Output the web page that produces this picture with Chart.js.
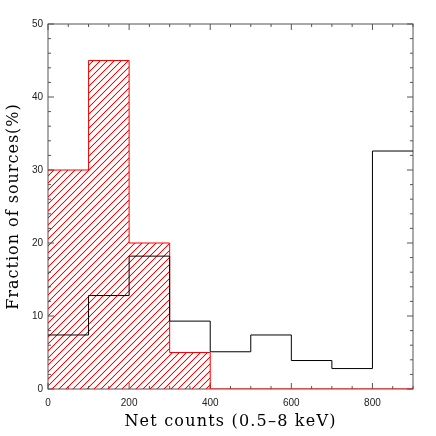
<!DOCTYPE html>
<html><head><meta charset="utf-8">
<script src="https://cdn.jsdelivr.net/npm/chart.js@4"></script>
<style>html,body{margin:0;padding:0;background:#fff}#wrap{width:436px;height:436px}</style>
</head><body>
<div id="wrap"><canvas id="c" width="436" height="436"></canvas></div>
<script>
// Histogram bin edges (net counts, 0.5-8 keV)
const binEdges = [0, 100, 200, 300, 400, 500, 600, 700, 800, 900];
// Black histogram: fraction of all sources (%)
const allSources = [7.4, 12.8, 18.2, 9.3, 5.1, 7.4, 3.9, 2.8, 32.6];
// Red hatched histogram: fraction of selected sources (%)
const selectedSources = [30, 45, 20, 5, 0, 0, 0, 0, 0];
// Tick labels
const xTickLabels = [0, 200, 400, 600, 800];
const yTickLabels = [0, 10, 20, 30, 40, 50];
const xMinorStep = 50, yMinorStep = 2;

function toSteps(values) {
  const pts = values.map((v, i) => ({x: binEdges[i], y: v}));
  pts.push({x: binEdges[binEdges.length - 1], y: values[values.length - 1]});
  return pts;
}

function hatch() {
  const s = 7;
  const c = document.createElement('canvas');
  c.width = s; c.height = s;
  const g = c.getContext('2d');
  const img = g.createImageData(s, s);
  for (let yy = 0; yy < s; yy++) {
    for (let xx = 0; xx < s; xx++) {
      const i = (yy * s + xx) * 4;
      const d = (xx + yy) % s;
      let a = 0;
      if (d === s - 1) a = 255;
      else if (d === 0 || d === s - 2) a = 40;
      img.data[i] = 255; img.data[i + 1] = 0; img.data[i + 2] = 0; img.data[i + 3] = a;
    }
  }
  g.putImageData(img, 0, 0);
  return g.createPattern(c, 'repeat');
}

function spacedTitle(scale, spacing) {
  if (scale.__spaced) return;
  const orig = scale.drawTitle;
  scale.drawTitle = function () {
    const ctx = this.ctx;
    ctx.save();
    ctx.letterSpacing = spacing;
    orig.apply(this, arguments);
    ctx.restore();
  };
  scale.__spaced = true;
}

const framePlugin = {
  id: 'frame',
  afterLayout(chart) {
    spacedTitle(chart.scales.x, '1.2px');
    spacedTitle(chart.scales.y, '1px');
  },
  beforeDatasetsDraw(chart) {
    const {ctx, chartArea: a, scales: {x, y}} = chart;
    ctx.save();
    ctx.strokeStyle = '#555';
    ctx.lineWidth = 1;
    ctx.strokeRect(a.left, a.top, a.right - a.left, a.bottom - a.top);
    ctx.beginPath();
    for (let v = x.min; v <= x.max; v += xMinorStep) {
      const px = x.getPixelForValue(v);
      const len = xTickLabels.includes(v) ? 6 : 3;
      ctx.moveTo(px, a.bottom); ctx.lineTo(px, a.bottom - len);
      ctx.moveTo(px, a.top); ctx.lineTo(px, a.top + len);
    }
    for (let v = y.min; v <= y.max; v += yMinorStep) {
      const py = y.getPixelForValue(v);
      const len = yTickLabels.includes(v) ? 6 : 3;
      ctx.moveTo(a.left, py); ctx.lineTo(a.left + len, py);
      ctx.moveTo(a.right, py); ctx.lineTo(a.right - len, py);
    }
    ctx.stroke();
    ctx.restore();
  }
};

const titleFont = {family: 'DejaVu Serif', size: 16};
const tickFont = {family: 'Liberation Sans', size: 10};

new Chart(document.getElementById('c'), {
  type: 'line',
  data: {
    datasets: [
      {
        label: 'All',
        data: toSteps(allSources),
        stepped: true,
        borderColor: '#000',
        borderWidth: 1,
        pointRadius: 0,
        fill: false
      },
      {
        label: 'Selected',
        data: toSteps(selectedSources),
        stepped: true,
        borderColor: '#ff0000',
        borderWidth: 1,
        pointRadius: 0,
        fill: 'origin',
        backgroundColor: hatch()
      }
    ]
  },
  options: {
    responsive: false,
    animation: false,
    devicePixelRatio: 1,
    layout: {padding: {top: 24, right: 23, left: 0, bottom: 0}},
    plugins: {legend: {display: false}, tooltip: {enabled: false}},
    scales: {
      x: {
        type: 'linear', min: 0, max: 900,
        afterBuildTicks: s => { s.ticks = xTickLabels.map(v => ({value: v})); },
        afterFit: s => { s.height = 47; },
        grid: {display: false, drawTicks: false},
        border: {display: false},
        ticks: {font: tickFont, color: '#222', padding: 8, maxRotation: 0, autoSkip: false},
        title: {display: true, text: 'Net counts (0.5\u20138 keV)', font: titleFont, color: '#000', padding: {top: 5, bottom: 5}}
      },
      y: {
        type: 'linear', min: 0, max: 50,
        afterBuildTicks: s => { s.ticks = yTickLabels.map(v => ({value: v})); },
        afterFit: s => { s.width = 48; },
        grid: {display: false, drawTicks: false},
        border: {display: false},
        ticks: {font: tickFont, color: '#222', padding: 5, autoSkip: false},
        title: {display: true, text: 'Fraction of sources(%)', font: titleFont, color: '#000', padding: {top: 4, bottom: 4}}
      }
    }
  },
  plugins: [framePlugin]
});
</script>
</body></html>
